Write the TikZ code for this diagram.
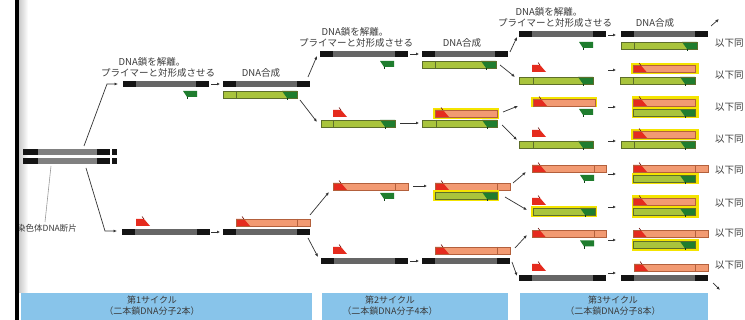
\documentclass[tikz,border=0pt]{standalone}
\usepackage{fontspec}
\newfontfamily\jp{Noto Sans CJK JP}
\usetikzlibrary{arrows.meta}
\definecolor{tblack}{HTML}{141414}
\definecolor{tgrey}{HTML}{666666}
\definecolor{lgreen}{HTML}{A9C43C}
\definecolor{gedge}{HTML}{5D6E2A}
\definecolor{dgreen}{HTML}{1F7D2E}
\definecolor{salmon}{HTML}{F29A72}
\definecolor{pedge}{HTML}{B3603C}
\definecolor{pred}{HTML}{E52B1E}
\definecolor{hyel}{HTML}{F4E400}
\definecolor{bluebox}{HTML}{88C4EA}
\definecolor{txt}{HTML}{3A3A3A}
\newcommand\tmplbar[3]{%
  \fill[tgrey] (#1,#3) rectangle (#2,#3+6);
  \fill[tblack] (#1,#3) rectangle (#1+13,#3+6);
  \fill[tblack] (#2-13,#3) rectangle (#2,#3+6);}
\newcommand\grnstr[3]{%
  \fill[lgreen] (#1,#3) rectangle (#2,#3+7);
  \fill[dgreen] (#2-15,#3) -- (#2,#3) -- (#2,#3+7) -- (#2-10,#3+7) -- cycle;
  \draw[gedge,line width=0.5pt] (#1,#3) rectangle (#2,#3+7);
  \draw[dgreen!50!black,line width=0.6pt] (#2-10,#3+7) -- (#2-10,#3+9);}
\newcommand\gtick[2]{\draw[gedge,line width=0.5pt] (#1,#2) -- (#1,#2+7);}
\newcommand\pnkstr[3]{%
  \fill[salmon] (#1,#3) rectangle (#2,#3+7);
  \fill[pred] (#1,#3) -- (#1+8,#3) -- (#1+14,#3+7) -- (#1,#3+7) -- cycle;
  \draw[pedge,line width=0.5pt] (#1,#3) rectangle (#2,#3+7);
  \draw[pred!50!black,line width=0.6pt] (#1+8,#3) -- (#1+6,#3-2.5);}
\newcommand\ptick[2]{\draw[pedge,line width=0.5pt] (#1,#2) -- (#1,#2+7);}
\newcommand\gprim[2]{%
  \fill[dgreen] (#1,#2) -- (#1+14,#2) -- (#1+14,#2+6) -- (#1+4,#2+6) -- cycle;
  \draw[dgreen!50!black,line width=0.6pt] (#1+4,#2+6) -- (#1+4,#2+8.5);}
\newcommand\rprim[2]{%
  \fill[pred] (#1,#2+7) -- (#1,#2) -- (#1+8,#2) -- (#1+14,#2+7) -- cycle;
  \draw[pred!50!black,line width=0.6pt] (#1+8,#2) -- (#1+6,#2-2.5);}
\newcommand\ybox[4]{\fill[hyel] (#1,#2) rectangle (#3,#4);}
\tikzset{
  lbl/.style={font=\jp\fontsize{9.5}{11}\selectfont, text=txt, inner sep=0pt},
  same/.style={font=\jp\fontsize{9.5}{11}\selectfont, text=txt, inner sep=0pt, anchor=west},
  boxt/.style={font=\jp\fontsize{9}{10.5}\selectfont, text=txt, inner sep=0pt, align=center},
  conn/.style={draw=black!80, line width=0.7pt, -{Latex[length=3.5pt,width=3pt]}},
  sarr/.style={draw=black!80, line width=0.8pt, -{Latex[length=3pt,width=3pt]}},
}
\begin{document}
\begin{tikzpicture}[x=1pt,y=-1pt]
\useasboundingbox (0,0) rectangle (745,320);
\fill[white] (0,0) rectangle (745,320);
% page shadow and binding
\shade[left color=black!22, right color=white] (18.5,0) rectangle (28,293);
% blue cycle boxes
\fill[bluebox] (21,293) rectangle (312,320);
\fill[bluebox] (322,293) rectangle (508,320);
\fill[bluebox] (520,293) rectangle (708,320);
\node[boxt] (b1) at (152,305.5) {第1サイクル\\（二本鎖DNA分子2本）};
\node[boxt] (b2) at (390,305.5) {第2サイクル\\（二本鎖DNA分子4本）};
\node[boxt] (b3) at (613,305.5) {第3サイクル\\（二本鎖DNA分子8本）};
% starting DNA
\foreach \yy in {149.5,158.5}{
  \fill[black!50] (23,\yy) rectangle (110,\yy+6);
  \fill[tblack] (23,\yy) rectangle (38,\yy+6);
  \fill[tblack] (97,\yy) rectangle (110,\yy+6);
  \fill[tblack] (112,\yy) rectangle (117,\yy+6);
}
\node[font=\jp\fontsize{8.5}{10}\selectfont, text=txt, inner sep=0pt, anchor=west] (lab0) at (17,228) {染色体DNA断片};
\coordinate (ld1) at (45,222);
\coordinate (ld2) at (51,166);
\draw[black!40, line width=0.6pt] (ld1) -- (ld2);
\fill[black] (15,0) rectangle (18.5,320);
% ---------------- cycle 1 ----------------
\coordinate (s0u) at (84,146); \coordinate (k1u) at (107,84); \coordinate (e1u) at (118,84);
\coordinate (s0d) at (86,168); \coordinate (k1d) at (105,231); \coordinate (e1d) at (117,231);
\draw[conn] (s0u) -- (k1u) -- (e1u);
\draw[conn] (s0d) -- (k1d) -- (e1d);
\node[lbl] (t1a) at (152,62) {DNA鎖を解離。};
\node[lbl] (t1b) at (158,73) {プライマーと対形成させる};
\node[lbl] (t1c) at (261,73) {DNA合成};
% row A
\tmplbar{123}{209}{81}
\gprim{183}{91}
\coordinate (a1s) at (211,84); \coordinate (a1e) at (220,84);
\draw[sarr] (a1s) -- (a1e);
\tmplbar{223}{310}{81}
\grnstr{223}{297}{91}\gtick{236}{91}
% row B
\rprim{136}{219}
\tmplbar{122}{210}{229}
\coordinate (b1s) at (211,232); \coordinate (b1e) at (220,232);
\draw[sarr] (b1s) -- (b1e);
\tmplbar{223}{310}{229}
\pnkstr{236}{310}{219}\ptick{297}{219}
% connectors 1 -> 2
\coordinate (c2a0) at (308,77);  \coordinate (c2a1) at (317,56);
\coordinate (c2b0) at (300,100); \coordinate (c2b1) at (317,122);
\coordinate (c2c0) at (310,215); \coordinate (c2c1) at (329,192);
\coordinate (c2d0) at (308,238); \coordinate (c2d1) at (318,257);
\draw[conn] (c2a0) -- (c2a1);
\draw[conn] (c2b0) -- (c2b1);
\draw[conn] (c2c0) -- (c2c1);
\draw[conn] (c2d0) -- (c2d1);
% ---------------- cycle 2 ----------------
\node[lbl] (t2a) at (355,32) {DNA鎖を解離。};
\node[lbl] (t2b) at (356,43) {プライマーと対形成させる};
\node[lbl] (t2c) at (462,43) {DNA合成};
% row 1
\tmplbar{320}{408}{51}
\gprim{380}{61}
\coordinate (r21s) at (410,54); \coordinate (r21e) at (419,54);
\draw[sarr] (r21s) -- (r21e);
\tmplbar{422}{508}{51}
\grnstr{422}{496}{61}\gtick{435}{61}
% row 2
\rprim{333}{110}
\grnstr{321}{395}{120}\gtick{333}{120}
\coordinate (r22s) at (400,123); \coordinate (r22e) at (419,123);
\draw[sarr] (r22s) -- (r22e);
\ybox{432.5}{108}{498.5}{119}
\pnkstr{435}{497}{110}
\grnstr{422}{497}{120}\gtick{436}{120}
% row 3
\pnkstr{333}{408}{183}\ptick{395}{183}
\gprim{380}{193}
\coordinate (r23s) at (413,186); \coordinate (r23e) at (427,186);
\draw[sarr] (r23s) -- (r23e);
\pnkstr{435}{510}{183}\ptick{497}{183}
\ybox{432.5}{190.5}{498.5}{201}
\grnstr{435}{497}{192}
% row 4
\rprim{333}{247}
\tmplbar{321}{408}{258}
\coordinate (r24s) at (410,261); \coordinate (r24e) at (419,261);
\draw[sarr] (r24s) -- (r24e);
\tmplbar{422}{510}{258}
\pnkstr{435}{510}{247}\ptick{497}{247}
% connectors 2 -> 3
\coordinate (c3a0) at (510,52);  \coordinate (c3a1) at (517,37);
\coordinate (c3b0) at (500,65);  \coordinate (c3b1) at (515,77);
\coordinate (c3c0) at (503,112); \coordinate (c3c1) at (518,106);
\coordinate (c3d0) at (502,125); \coordinate (c3d1) at (517,140);
\coordinate (c3e0) at (513,183); \coordinate (c3e1) at (526,172);
\coordinate (c3f0) at (505,197); \coordinate (c3f1) at (527,210);
\coordinate (c3g0) at (515,248); \coordinate (c3g1) at (527,235);
\coordinate (c3h0) at (512,262); \coordinate (c3h1) at (517,276);
\foreach \n in {a,b,c,d,e,f,g,h}{\draw[conn] (c3\n0) -- (c3\n1);}
% ---------------- cycle 3 ----------------
\node[lbl] (t3a) at (549,12) {DNA鎖を解離。};
\node[lbl] (t3b) at (555,23) {プライマーと対形成させる};
\node[lbl] (t3c) at (655,23) {DNA合成};
% row arrows
\foreach \yy/\nm in {35/1,70/2,107/3,141/4,174/5,207/6,240/7,273/8}{
  \coordinate (q\nm s) at (608,\yy); \coordinate (q\nm e) at (616,\yy);
  \draw[sarr] (q\nm s) -- (q\nm e);
}
% row 1
\tmplbar{519}{606}{31.5}
\gprim{579}{42}
\tmplbar{621}{708}{31.5}
\grnstr{621}{697}{42}\gtick{634}{42}
% row 2
\rprim{532}{65}
\grnstr{519}{593}{77}\gtick{533}{77}
\ybox{631}{63}{699}{74.5}
\pnkstr{633}{695}{65.5}
\grnstr{620}{695}{77}\gtick{633}{77}
% row 3
\ybox{531}{97}{597}{107.5}
\pnkstr{533}{595}{99}
\gprim{579}{109}
\ybox{631.5}{96}{698.5}{118.5}
\pnkstr{633}{695}{99}
\grnstr{633}{695}{109.5}
% row 4
\rprim{532}{130}
\grnstr{519}{593}{141}\gtick{533}{141}
\ybox{631}{129}{699}{140}
\pnkstr{633}{695}{131}
\grnstr{621}{695}{141}\gtick{634}{141}
% row 5
\pnkstr{532}{606}{165}\ptick{594}{165}
\gprim{580}{175}
\pnkstr{633}{708}{165}\ptick{695}{165}
\ybox{631.5}{173.5}{698.5}{184}
\grnstr{633}{695}{175.5}
% row 6
\rprim{532}{198}
\ybox{531}{206}{597}{217}
\grnstr{533}{595}{208}
\ybox{631.5}{195.5}{698.5}{218}
\pnkstr{633}{695}{198}
\grnstr{633}{695}{208.5}
% row 7
\pnkstr{532}{606}{230.5}\ptick{594}{230.5}
\gprim{580}{240.5}
\pnkstr{633}{708}{230.5}\ptick{695}{230.5}
\ybox{631.5}{239.5}{698.5}{251}
\grnstr{633}{695}{241.5}
% row 8
\rprim{532}{264}
\tmplbar{519}{606}{275.5}
\tmplbar{621}{708}{275.5}
\pnkstr{634}{708}{264}\ptick{695}{264}
% "same below" labels
\foreach \yy/\nm in {43/1,75/2,107/3,139/4,170/5,203/6,233/7,265/8}{
  \node[same] (ika\nm) at (715,\yy) {以下同};
}
% small continuation arrows
\coordinate (x1s) at (711,26); \coordinate (x1e) at (719,19);
\coordinate (x2s) at (713,283); \coordinate (x2e) at (720,290);
\draw[conn] (x1s) -- (x1e);
\draw[conn] (x2s) -- (x2e);
\end{tikzpicture}
\end{document}
